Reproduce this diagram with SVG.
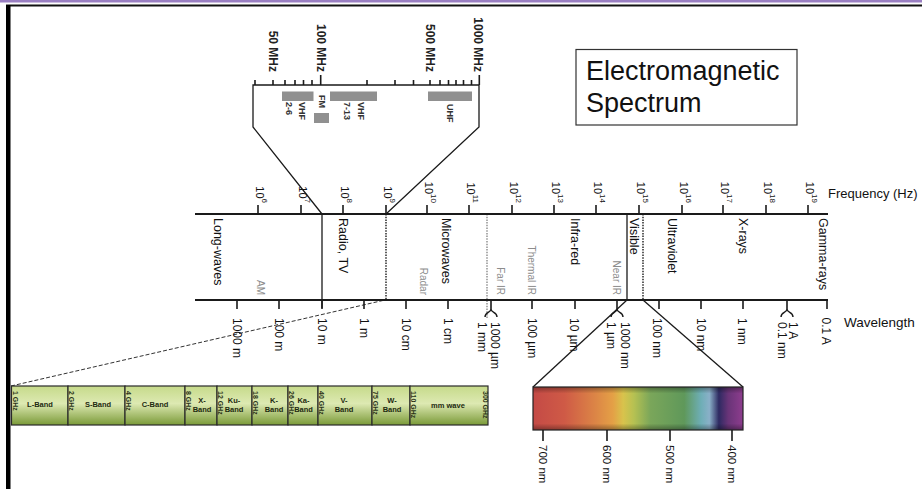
<svg xmlns="http://www.w3.org/2000/svg" width="922" height="489" viewBox="0 0 922 489">
<defs>
<style>
text{font-family:"Liberation Sans",Arial,Helvetica,sans-serif}
.ax{stroke:#1a1a1a;stroke-width:2;fill:none}
.tk{stroke:#1a1a1a;stroke-width:1.6}
.ln{stroke:#1a1a1a;stroke-width:1.3;fill:none}
.dot{stroke:#1a1a1a;stroke-width:1.4;stroke-dasharray:1.5 1.2;fill:none}
.dotg{stroke:#8a8a8a;stroke-width:1.4;stroke-dasharray:1.5 1.2;fill:none}
.dash{stroke:#333;stroke-width:1;stroke-dasharray:4 2;fill:none}
.main{font-size:12.5px;fill:#111;dominant-baseline:central}
.sub{font-size:10px;fill:#8c8c8c;dominant-baseline:central;text-anchor:end}
.wl{font-size:12px;fill:#111;dominant-baseline:central}
.fq{font-size:11px;fill:#111;dominant-baseline:central;text-anchor:end}
.sup{font-size:8px}
.ins{font-size:12px;font-weight:bold;fill:#222;dominant-baseline:central;text-anchor:end}
.insb{font-size:9px;font-weight:bold;fill:#333;dominant-baseline:central}
.bar{fill:#909090}
.band{font-size:7.5px;font-weight:bold;fill:#1e2a10;text-anchor:middle;dominant-baseline:central}
.ghz{font-size:7px;font-weight:bold;fill:#2a3318;dominant-baseline:central}
.cell{fill:url(#gg);stroke:#2a2a2a;stroke-width:1.2}
.vis{font-size:11.5px;fill:#111;dominant-baseline:central}
.brace{stroke:#1a1a1a;stroke-width:1.4;fill:none}
</style>
<linearGradient id="gg" x1="0" y1="0" x2="0" y2="1">
<stop offset="0" stop-color="#c6da8a"/>
<stop offset="0.45" stop-color="#dde9b2"/>
<stop offset="1" stop-color="#7a9a38"/>
</linearGradient>
<linearGradient id="spec" x1="0" y1="0" x2="1" y2="0">
<stop offset="0" stop-color="#c44a46"/>
<stop offset="0.15" stop-color="#cf5a46"/>
<stop offset="0.3" stop-color="#dc8646"/>
<stop offset="0.38" stop-color="#e4a046"/>
<stop offset="0.43" stop-color="#d8c34c"/>
<stop offset="0.48" stop-color="#b6c152"/>
<stop offset="0.56" stop-color="#7aa65a"/>
<stop offset="0.72" stop-color="#5f985a"/>
<stop offset="0.8" stop-color="#6eaeb6"/>
<stop offset="0.84" stop-color="#8ab0c8"/>
<stop offset="0.885" stop-color="#2e2a62"/>
<stop offset="0.93" stop-color="#693478"/>
<stop offset="1" stop-color="#8e3d8e"/>
</linearGradient>
<linearGradient id="shade" x1="0" y1="0" x2="0" y2="1">
<stop offset="0" stop-color="#000" stop-opacity="0.35"/>
<stop offset="0.15" stop-color="#000" stop-opacity="0"/>
<stop offset="0.85" stop-color="#000" stop-opacity="0"/>
<stop offset="1" stop-color="#000" stop-opacity="0.35"/>
</linearGradient>
</defs>

<g id="frame">
<line x1="0" y1="1.3" x2="922" y2="1.3" stroke="#9a7fc2" stroke-width="2.6"/>
<line x1="6" y1="5.5" x2="922" y2="5.5" stroke="#111" stroke-width="2"/>
<rect x="6" y="5" width="4.5" height="484" fill="#000"/>
</g>

<g id="title">
<rect x="576" y="49.5" width="221" height="75.5" fill="#fff" stroke="#333" stroke-width="1.2"/>
<text x="586" y="79.5" font-size="27" fill="#111">Electromagnetic</text>
<text x="586" y="112" font-size="27" fill="#111">Spectrum</text>
</g>

<g id="connectors">
<path class="ln" d="M322,214 L253,127 L253,85 L479,85 L479,127 L386,214"/>
<line class="ln" x1="322" y1="214" x2="322" y2="308"/>
<line class="dot" x1="386" y1="214" x2="386" y2="300"/>
<line class="dotg" x1="487" y1="214" x2="487" y2="318"/>
<line class="ln" x1="627" y1="214" x2="627" y2="300"/>
<line class="dot" x1="643" y1="214" x2="643" y2="300"/>
<line class="ln" x1="627" y1="300" x2="533" y2="387"/>
<line class="ln" x1="643" y1="300" x2="743" y2="387"/>
<line class="dash" x1="11" y1="386" x2="385" y2="300"/>
</g>

<g id="inset">
<g class="tk" stroke-width="1.3">
<line x1="255" y1="85" x2="255" y2="80"/>
<line x1="273" y1="85" x2="273" y2="80"/>
<line x1="285" y1="85" x2="285" y2="80"/>
<line x1="295" y1="85" x2="295" y2="80"/>
<line x1="303.5" y1="85" x2="303.5" y2="80"/>
<line x1="312" y1="85" x2="312" y2="80"/>
<line x1="320.7" y1="85" x2="320.7" y2="75"/>
<line x1="367" y1="85" x2="367" y2="80"/>
<line x1="395" y1="85" x2="395" y2="80"/>
<line x1="413.5" y1="85" x2="413.5" y2="80"/>
<line x1="430" y1="85" x2="430" y2="80"/>
<line x1="440" y1="85" x2="440" y2="80"/>
<line x1="448.5" y1="85" x2="448.5" y2="80"/>
<line x1="456" y1="85" x2="456" y2="80"/>
<line x1="463.5" y1="85" x2="463.5" y2="80"/>
<line x1="471.5" y1="85" x2="471.5" y2="80"/>
<line x1="479.3" y1="85" x2="479.3" y2="75"/>
</g>
<text class="ins" transform="translate(273,72) rotate(90)">50 MHz</text>
<text class="ins" transform="translate(320.7,72) rotate(90)">100 MHz</text>
<text class="ins" transform="translate(430,72) rotate(90)">500 MHz</text>
<text class="ins" transform="translate(477.5,72) rotate(90)">1000 MHz</text>
<rect class="bar" x="282" y="91.5" width="31.5" height="9.5"/>
<rect class="bar" x="330" y="91.5" width="47" height="9.5"/>
<rect class="bar" x="428" y="91.5" width="44" height="9.5"/>
<rect class="bar" x="314" y="113" width="15" height="10"/>
<text class="insb" transform="translate(301.7,102) rotate(90)">VHF</text>
<text class="insb" transform="translate(289.3,102) rotate(90)">2-6</text>
<text class="insb" transform="translate(322.3,95) rotate(90)">FM</text>
<text class="insb" transform="translate(360.7,102) rotate(90)">VHF</text>
<text class="insb" transform="translate(347.3,102) rotate(90)">7-13</text>
<text class="insb" transform="translate(450,104) rotate(90)">UHF</text>
</g>

<g id="frequency-axis">
<line class="ax" x1="195" y1="214" x2="828" y2="214"/>
<g class="tk">
<line x1="258" y1="214" x2="258" y2="205"/>
<line x1="301" y1="214" x2="301" y2="205"/>
<line x1="343" y1="214" x2="343" y2="205"/>
<line x1="386" y1="214" x2="386" y2="205"/>
<line x1="427" y1="214" x2="427" y2="205"/>
<line x1="469" y1="214" x2="469" y2="205"/>
<line x1="512" y1="214" x2="512" y2="205"/>
<line x1="554" y1="214" x2="554" y2="205"/>
<line x1="596" y1="214" x2="596" y2="205"/>
<line x1="639" y1="214" x2="639" y2="205"/>
<line x1="682" y1="214" x2="682" y2="205"/>
<line x1="723" y1="214" x2="723" y2="205"/>
<line x1="766" y1="214" x2="766" y2="205"/>
<line x1="808" y1="214" x2="808" y2="205"/>
</g>
<text class="fq" transform="translate(260,203) rotate(90)">10<tspan class="sup" baseline-shift="super">6</tspan></text>
<text class="fq" transform="translate(303,203) rotate(90)">10<tspan class="sup" baseline-shift="super">7</tspan></text>
<text class="fq" transform="translate(345,203) rotate(90)">10<tspan class="sup" baseline-shift="super">8</tspan></text>
<text class="fq" transform="translate(388,203) rotate(90)">10<tspan class="sup" baseline-shift="super">9</tspan></text>
<text class="fq" transform="translate(429,203) rotate(90)">10<tspan class="sup" baseline-shift="super">10</tspan></text>
<text class="fq" transform="translate(471,203) rotate(90)">10<tspan class="sup" baseline-shift="super">11</tspan></text>
<text class="fq" transform="translate(514,203) rotate(90)">10<tspan class="sup" baseline-shift="super">12</tspan></text>
<text class="fq" transform="translate(556,203) rotate(90)">10<tspan class="sup" baseline-shift="super">13</tspan></text>
<text class="fq" transform="translate(598,203) rotate(90)">10<tspan class="sup" baseline-shift="super">14</tspan></text>
<text class="fq" transform="translate(641,203) rotate(90)">10<tspan class="sup" baseline-shift="super">15</tspan></text>
<text class="fq" transform="translate(684,203) rotate(90)">10<tspan class="sup" baseline-shift="super">16</tspan></text>
<text class="fq" transform="translate(725,203) rotate(90)">10<tspan class="sup" baseline-shift="super">17</tspan></text>
<text class="fq" transform="translate(768,203) rotate(90)">10<tspan class="sup" baseline-shift="super">18</tspan></text>
<text class="fq" transform="translate(810,203) rotate(90)">10<tspan class="sup" baseline-shift="super">19</tspan></text>
<text x="828" y="198" font-size="13" fill="#111">Frequency (Hz)</text>
</g>

<g id="regions">
<text class="main" transform="translate(218,218) rotate(90)">Long-waves</text>
<text class="sub" transform="translate(260,295) rotate(90)">AM</text>
<text class="main" transform="translate(343.3,218) rotate(90)">Radio, TV</text>
<text class="sub" transform="translate(423.3,295) rotate(90)">Radar</text>
<text class="main" transform="translate(445.7,218) rotate(90)">Microwaves</text>
<text class="sub" transform="translate(500,295) rotate(90)">Far IR</text>
<text class="sub" transform="translate(531.7,295) rotate(90)">Thermal IR</text>
<text class="main" transform="translate(575,218) rotate(90)">Infra-red</text>
<text class="sub" transform="translate(616.7,295) rotate(90)">Near IR</text>
<text class="main" transform="translate(634.3,218) rotate(90)">Visible</text>
<text class="main" transform="translate(672.3,218) rotate(90)">Ultraviolet</text>
<text class="main" transform="translate(743.3,218) rotate(90)">X-rays</text>
<text class="main" transform="translate(823.3,218) rotate(90)">Gamma-rays</text>
</g>

<g id="wavelength-axis">
<line class="ax" x1="195" y1="300" x2="828" y2="300"/>
<g class="tk">
<line x1="237" y1="300" x2="237" y2="309"/>
<line x1="279" y1="300" x2="279" y2="309"/>
<line x1="322" y1="300" x2="322" y2="309"/>
<line x1="364" y1="300" x2="364" y2="309"/>
<line x1="406" y1="300" x2="406" y2="309"/>
<line x1="448" y1="300" x2="448" y2="309"/>
<line x1="491" y1="300" x2="491" y2="309"/>
<line x1="532" y1="300" x2="532" y2="309"/>
<line x1="575" y1="300" x2="575" y2="309"/>
<line x1="617" y1="300" x2="617" y2="309"/>
<line x1="659" y1="300" x2="659" y2="309"/>
<line x1="701" y1="300" x2="701" y2="309"/>
<line x1="743" y1="300" x2="743" y2="309"/>
<line x1="787" y1="300" x2="787" y2="309"/>
<line x1="827" y1="300" x2="827" y2="309"/>
</g>
<path class="brace" d="M485,317 C485,312 491,313 491,309 C491,313 497,312 497,317"/>
<path class="brace" d="M611,317 C611,312 617,313 617,309 C617,313 623,312 623,317"/>
<path class="brace" d="M781,317 C781,312 787,313 787,309 C787,313 793,312 793,317"/>
<text class="wl" transform="translate(237,318) rotate(90)">1000 m</text>
<text class="wl" transform="translate(279,318) rotate(90)">100 m</text>
<text class="wl" transform="translate(322,318) rotate(90)">10 m</text>
<text class="wl" transform="translate(364,318) rotate(90)">1 m</text>
<text class="wl" transform="translate(406,318) rotate(90)">10 cm</text>
<text class="wl" transform="translate(448,318) rotate(90)">1 cm</text>
<text class="wl" transform="translate(482,322) rotate(90)">1 mm</text>
<text class="wl" transform="translate(495,322) rotate(90)">1000 µm</text>
<text class="wl" transform="translate(532,318) rotate(90)">100 µm</text>
<text class="wl" transform="translate(574.3,318) rotate(90)">10 µm</text>
<text class="wl" transform="translate(610.7,322) rotate(90)">1 µm</text>
<text class="wl" transform="translate(624.5,322) rotate(90)">1000 nm</text>
<text class="wl" transform="translate(657,318) rotate(90)">100 nm</text>
<text class="wl" transform="translate(700.7,318) rotate(90)">10 nm</text>
<text class="wl" transform="translate(741.7,318) rotate(90)">1 nm</text>
<text class="wl" transform="translate(781.7,322) rotate(90)">0.1 nm</text>
<text class="wl" transform="translate(793.3,322) rotate(90)">1 A</text>
<text class="wl" transform="translate(826,317.5) rotate(90)">0.1 A</text>
<text x="844" y="327" font-size="13.5" fill="#111">Wavelength</text>
</g>

<g id="radar-bands">
<rect class="cell" x="11.5" y="386" width="56.5" height="39"/>
<rect class="cell" x="68" y="386" width="57" height="39"/>
<rect class="cell" x="125" y="386" width="60" height="39"/>
<rect class="cell" x="185" y="386" width="32" height="39"/>
<rect class="cell" x="217" y="386" width="35" height="39"/>
<rect class="cell" x="252" y="386" width="36" height="39"/>
<rect class="cell" x="288" y="386" width="30" height="39"/>
<rect class="cell" x="318" y="386" width="54" height="39"/>
<rect class="cell" x="372" y="386" width="38" height="39"/>
<rect class="cell" x="410" y="386" width="78" height="39"/>
<text class="ghz" transform="translate(15,391) rotate(90)">1 GHz</text>
<text class="ghz" transform="translate(71,391) rotate(90)">2 GHz</text>
<text class="ghz" transform="translate(128,391) rotate(90)">4 GHz</text>
<text class="ghz" transform="translate(188,391) rotate(90)">8 GHz</text>
<text class="ghz" transform="translate(220,391) rotate(90)">12 GHz</text>
<text class="ghz" transform="translate(255.5,391) rotate(90)">18 GHz</text>
<text class="ghz" transform="translate(291,391) rotate(90)">26 GHz</text>
<text class="ghz" transform="translate(321.5,391) rotate(90)">40 GHz</text>
<text class="ghz" transform="translate(375,391) rotate(90)">75 GHz</text>
<text class="ghz" transform="translate(413,391) rotate(90)">110 GHz</text>
<text class="ghz" transform="translate(485,391) rotate(90)">300 GHz</text>
<text class="band" x="40" y="404">L-Band</text>
<text class="band" x="98" y="404">S-Band</text>
<text class="band" x="155" y="404">C-Band</text>
<text class="band" x="202" y="400.5">X-</text>
<text class="band" x="202" y="409.5">Band</text>
<text class="band" x="234" y="400.5">Ku-</text>
<text class="band" x="234" y="409.5">Band</text>
<text class="band" x="274" y="400.5">K-</text>
<text class="band" x="274" y="409.5">Band</text>
<text class="band" x="303.5" y="400.5">Ka-</text>
<text class="band" x="303.5" y="409.5">Band</text>
<text class="band" x="344" y="400.5">V-</text>
<text class="band" x="344" y="409.5">Band</text>
<text class="band" x="392" y="400.5">W-</text>
<text class="band" x="392" y="409.5">Band</text>
<text class="band" x="448" y="405">mm wave</text>
</g>

<g id="visible-spectrum">
<rect x="533" y="387" width="210" height="43" fill="url(#spec)"/>
<rect x="533" y="387" width="210" height="43" fill="url(#shade)" stroke="#222" stroke-width="1.2"/>
<g class="tk">
<line x1="543" y1="430" x2="543" y2="441"/>
<line x1="607" y1="430" x2="607" y2="441"/>
<line x1="670" y1="430" x2="670" y2="441"/>
<line x1="732" y1="430" x2="732" y2="441"/>
</g>
<text class="vis" transform="translate(543,445) rotate(90)">700 nm</text>
<text class="vis" transform="translate(607,445) rotate(90)">600 nm</text>
<text class="vis" transform="translate(670,445) rotate(90)">500 nm</text>
<text class="vis" transform="translate(732,445) rotate(90)">400 nm</text>
</g>
</svg>
